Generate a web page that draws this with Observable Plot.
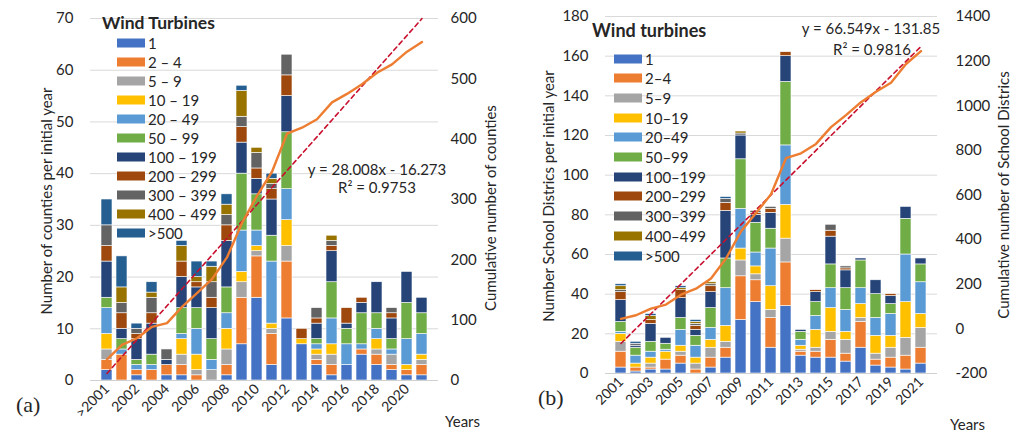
<!DOCTYPE html>
<html><head><meta charset="utf-8">
<script src="https://cdn.jsdelivr.net/npm/d3@7"></script>
<script src="https://cdn.jsdelivr.net/npm/@observablehq/plot@0.6"></script>
<style>
body{margin:0;background:#fff;font-family:Lato,"Open Sans",sans-serif;color:#262626;}
#wrap{position:relative;width:1019px;height:433px;overflow:hidden;background:#fff;}
.panel{position:absolute;top:0;}
.t{position:absolute;white-space:nowrap;line-height:1;}
.rot{transform:translate(-50%,-50%) rotate(-90deg);font-size:15px;}
.ltitle{position:absolute;white-space:nowrap;font-weight:bold;font-size:18px;line-height:1;}
.eq{position:absolute;white-space:nowrap;font-size:15px;line-height:1;text-align:center;transform:translate(-50%,-50%);}
.lab{position:absolute;font-family:"Liberation Serif",serif;font-size:22px;line-height:1;transform:translate(0,-50%);}
</style></head>
<body><div id="wrap"></div>
<script>
// ---------- shared ----------
const classesA = ["1","2 – 4","5 – 9","10 – 19","20 – 49","50 – 99","100 – 199","200 – 299","300 – 399","400 – 499",">500"];
const classesB = ["1","2–4","5–9","10–19","20–49","50–99","100–199","200–299","300–399","400–499",">500"];
const classColors = ["#4472C4","#ED7D31","#A5A5A5","#FFC000","#5B9BD5","#70AD47","#264478","#9E480E","#636363","#997300","#255E91"];

// ---------- panel (a): counties ----------
const yearsA = [">2001","2001","2002","2003","2004","2005","2006","2007","2008","2009","2010","2011","2012","2013","2014","2015","2016","2017","2018","2019","2020","2021"];
const xTickLabelsA = [">2001","2002","2004","2006","2008","2010","2012","2014","2016","2018","2020"];
const yTicksA = [0,10,20,30,40,50,60,70];
const rightTicksA = [0,100,200,300,400,500,600];
const a_1      = [2,0,1,0,1,1,0,0,1,7,16,3,12,7,3,1,3,5,3,2,1,1];
const a_2to4   = [2,5,1,2,2,2,1,0,2,9,8,6,11,0,1,2,0,1,2,1,1,2];
const a_5to9   = [2,0,0,0,0,2,1,2,3,3,1,1,3,0,1,2,0,0,1,2,0,1];
const a_10to19 = [3,0,0,0,0,3,3,0,4,2,1,1,5,1,1,2,0,0,2,0,1,1];
const a_20to49 = [5,1,1,1,0,1,5,2,3,8,3,12,6,0,1,5,4,1,2,1,5,4];
const a_50to99 = [2,2,1,2,0,5,4,4,5,11,7,5,11,0,1,7,3,6,3,2,7,4];
const a_100to199 = [7,2,4,6,1,6,4,6,9,6,3,7,7,0,3,6,1,2,6,4,6,3];
const a_200to299 = [3,3,1,2,0,3,1,2,3,3,2,2,4,2,1,1,3,1,0,1,0,0];
const a_300to399 = [4,2,1,3,2,0,0,3,2,2,3,1,4,0,2,1,0,0,0,1,0,0];
const a_400to499 = [0,3,0,1,0,3,1,3,2,5,1,1,0,0,0,1,0,0,0,0,0,0];
const a_over500  = [5,6,1,2,0,1,3,1,2,1,0,1,0,0,0,0,0,0,0,0,0,0];
const cumulativeA = [35,59,70,89,95,122,145,168,204,261,306,346,409,419,433,461,475,491,510,524,545,561];
const trendA = [28.008, -16.273];

// ---------- panel (b): school districts ----------
const yearsB = ["2001","2002","2003","2004","2005","2006","2007","2008","2009","2010","2011","2012","2013","2014","2015","2016","2017","2018","2019","2020","2021"];
const xTickLabelsB = ["2001","2003","2005","2007","2009","2011","2013","2015","2017","2019","2021"];
const yTicksB = [0,20,40,60,80,100,120,140,160,180];
const rightTicksB = [-200,0,200,400,600,800,1000,1200,1400];
const b_1      = [3,1,2,2,5,0,3,8,27,36,13,34,9,8,8,6,13,4,3,2,5];
const b_2to4   = [8,2,1,5,4,2,5,5,22,11,15,22,2,3,9,4,13,3,5,7,8];
const b_5to9   = [5,0,2,0,2,3,5,3,8,3,4,12,1,2,4,7,2,3,5,9,10];
const b_10to19 = [4,2,3,4,3,3,4,8,6,4,12,17,2,9,12,4,7,9,6,18,7];
const b_20to49 = [1,4,3,1,8,6,6,19,20,7,19,30,3,7,10,11,8,9,11,24,16];
const b_50to99 = [5,4,5,3,6,5,10,15,25,15,10,32,4,7,12,11,14,12,5,18,9];
const b_100to199 = [11,1,9,3,10,3,8,24,12,4,8,13,1,5,14,9,1,7,4,6,3];
const b_200to299 = [4,0,2,0,4,2,3,4,0,1,2,2,0,1,3,1,0,0,1,0,0];
const b_300to399 = [1,1,0,0,0,1,1,2,1,1,1,0,0,0,3,1,0,0,0,0,0];
const b_400to499 = [2,0,2,0,1,1,1,0,1,0,0,0,0,0,0,0,0,0,0,0,0];
const b_over500  = [1,1,1,0,1,1,0,1,0,0,0,0,0,0,0,0,0,0,0,0,0];
const cumulativeB = [45,61,91,109,153,180,226,315,437,519,603,765,787,829,904,958,1016,1063,1103,1187,1245];
const trendB = [66.549, -131.85];

const seriesA = [a_1,a_2to4,a_5to9,a_10to19,a_20to49,a_50to99,a_100to199,a_200to299,a_300to399,a_400to499,a_over500];
const seriesB = [b_1,b_2to4,b_5to9,b_10to19,b_20to49,b_50to99,b_100to199,b_200to299,b_300to399,b_400to499,b_over500];

function panel(cfg) {
  const rows = [];
  cfg.years.forEach((yr, i) => cfg.series.forEach((s, k) => {
    if (s[i] > 0) rows.push({year: yr, cls: cfg.classes[k], value: s[i]});
  }));
  const toLeft = cfg.toLeft;
  const cum = cfg.years.map((yr, i) => ({year: yr, v: toLeft(cfg.cumulative[i])}));
  const trend = cfg.years.map((yr, i) => ({year: yr, v: toLeft(cfg.trend[0] * (i + 1) + cfg.trend[1])}));
  return Plot.plot({
    width: cfg.width, height: 433,
    marginLeft: cfg.ml, marginRight: cfg.mr, marginTop: cfg.mt, marginBottom: cfg.mb,
    style: {fontFamily: "Lato, sans-serif", fontSize: "15px", color: "#262626", background: "white"},
    x: {domain: cfg.years, padding: 0.26, label: null, axis: null},
    y: {domain: [0, cfg.ymax], label: null, axis: null},
    color: {domain: cfg.classes, range: classColors},
    marks: [
      Plot.gridY(cfg.yTicks, {stroke: "#d9d9d9", strokeOpacity: 1, strokeWidth: 1}),
      Plot.barY(rows, {x: "year", y: "value", fill: "cls", stroke: "white", strokeWidth: 0.6}),
      Plot.ruleY([0], {stroke: "#d0d0d0"}),
      Plot.lineY(trend, {x: "year", y: "v", stroke: "#C8102E", strokeWidth: 1.6, strokeDasharray: "4.5,3.5"}),
      Plot.lineY(cum, {x: "year", y: "v", stroke: "#ED7D31", strokeWidth: 2.4}),
      Plot.axisY(cfg.yTicks, {tickSize: 0, tickPadding: 17, fontSize: 15, label: null}),
      Plot.text(cfg.rightTicks, {y: d => toLeft(d), text: d => String(d), frameAnchor: "right", textAnchor: "start", dx: cfg.rdx, fontSize: 15, fill: "#262626"}),
      Plot.axisX(cfg.xTicks, {tickSize: 0, tickPadding: 6, tickRotate: -45, fontSize: 14, label: null})
    ]
  });
}

const wrap = document.getElementById("wrap");
function addPanel(node, left) {
  const d = document.createElement("div");
  d.className = "panel"; d.style.left = left + "px";
  d.appendChild(node); wrap.appendChild(d);
}
addPanel(panel({
  years: yearsA, series: seriesA, classes: classesA, cumulative: cumulativeA, trend: trendA,
  toLeft: v => v * 70 / 600, ymax: 70, yTicks: yTicksA, rightTicks: rightTicksA, xTicks: xTickLabelsA,
  width: 509, ml: 90, mr: 71, mt: 18, mb: 53, rdx: 12
}), 0);
addPanel(panel({
  years: yearsB, series: seriesB, classes: classesB, cumulative: cumulativeB, trend: trendB,
  toLeft: v => (v + 200) * 180 / 1600, ymax: 180, yTicks: yTicksB, rightTicks: rightTicksB, xTicks: xTickLabelsB,
  width: 510, ml: 96, mr: 82, mt: 16, mb: 60, rdx: 18
}), 509);

function addText(html, cls, x, y, extra) {
  const d = document.createElement("div");
  d.className = cls; d.innerHTML = html;
  d.style.left = x + "px"; d.style.top = y + "px";
  if (extra) Object.assign(d.style, extra);
  wrap.appendChild(d);
  return d;
}
// axis titles
addText("Number of counties per initial year", "t rot", 46, 201);
addText("Cumulative number of counties", "t rot", 490, 208);
addText("Number School Districs per initial year", "t rot", 548, 196);
addText("Cumulative number of School Districs", "t rot", 1003, 195);
// panel labels and Years
addText("(a)", "lab", 16, 405);
addText("(b)", "lab", 538, 398);
addText("Years", "t", 445, 414, {fontSize: "15px"});
addText("Years", "t", 950, 417, {fontSize: "15px"});
// equations
addText("y = 28.008x - 16.273", "eq", 377, 169);
addText("R² = 0.9753", "eq", 377, 187);
addText("y = 66.549x - 131.85", "eq", 871, 28);
addText("R² = 0.9816", "eq", 872, 49);

// legends
function legend(title, classes, tx, ty, tsize, sx, y0, dy) {
  addText(title, "ltitle", tx, ty, {fontSize: tsize + "px"});
  classes.forEach((c, i) => {
    const r = document.createElement("div");
    r.style.position = "absolute"; r.style.left = sx + "px"; r.style.top = (y0 + dy * i) + "px";
    r.style.transform = "translate(0,-50%)"; r.style.lineHeight = "1";
    r.style.display = "flex"; r.style.alignItems = "center"; r.style.whiteSpace = "nowrap"; r.style.fontSize = "15px";
    const sw = document.createElement("span");
    sw.style.display = "inline-block"; sw.style.width = "28px"; sw.style.height = "9px"; sw.style.marginRight = "3px";
    sw.style.background = classColors[i];
    const tx2 = document.createElement("span"); tx2.textContent = c;
    r.appendChild(sw); r.appendChild(tx2); wrap.appendChild(r);
  });
}
legend("Wind Turbines", classesA, 102, 14, 17.5, 117, 42.5, 19.05);
legend("Wind turbines", classesB, 592, 21, 18, 614, 58.5, 19.7);
</script></body></html>
